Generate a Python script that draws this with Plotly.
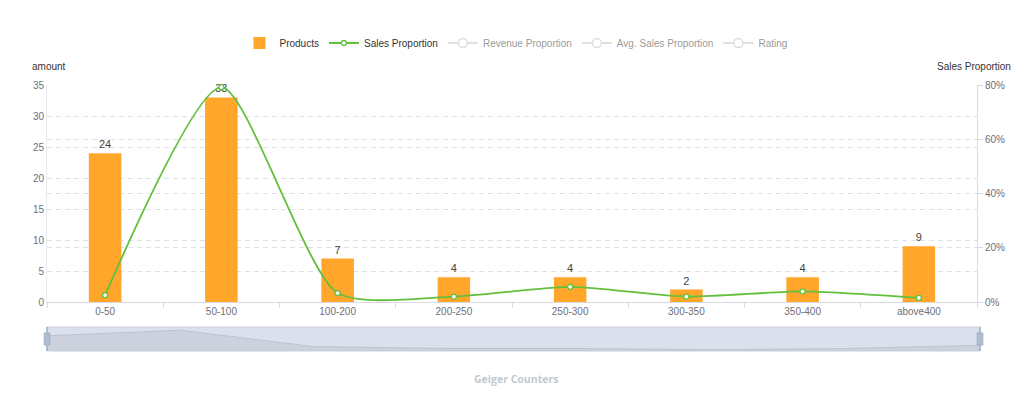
import plotly.graph_objects as go

categories = ["0-50", "50-100", "100-200", "200-250", "250-300", "300-350", "350-400", "above400"]
products = [24, 33, 7, 4, 4, 2, 4, 9]
sales_proportion = [0.025, 0.792, 0.033, 0.020, 0.056, 0.020, 0.039, 0.015]
left_ticks = [0, 5, 10, 15, 20, 25, 30, 35]
right_ticks = [0, 0.2, 0.4, 0.6, 0.8]

FONT = "Liberation Sans, Arial, sans-serif"
FS = 10
ORANGE = "#ffa62b"
GREEN = "#62c03c"
GRID = "#dde2ea"
AXIS = "#d7dbe3"
TICKC = "#6e7079"

# page body has an 8px margin; figure is sized/offset to compensate
W, H = 1016, 388
OFF = 8

fig = go.Figure()

fig.add_trace(go.Bar(
    x=categories, y=products, name="Products",
    marker=dict(color=ORANGE, line=dict(width=0)),
    width=0.28, text=[str(v) for v in products], textposition="outside",
    textfont=dict(color="#444", size=FS + 1, family=FONT), cliponaxis=False,
    xaxis="x", yaxis="y",
))
fig.add_trace(go.Scatter(
    x=categories, y=sales_proportion, name="Sales Proportion",
    mode="lines+markers", line=dict(color=GREEN, width=1.8, shape="spline", smoothing=0.65),
    marker=dict(symbol="circle", size=5, color="white", line=dict(color=GREEN, width=1.3)),
    xaxis="x", yaxis="y2", cliponaxis=False,
))
for nm in ["Revenue Proportion", "Avg. Sales Proportion", "Rating"]:
    fig.add_trace(go.Scatter(
        x=categories, y=sales_proportion, name=nm, visible="legendonly",
        mode="lines+markers", line=dict(color="#bbbbbb", width=1.8),
        marker=dict(symbol="circle", size=9, color="white", line=dict(color="#bbbbbb", width=1.3)),
        xaxis="x", yaxis="y2",
    ))

# data-zoom slider preview
slider_x = list(range(len(categories)))
fig.add_trace(go.Scatter(
    x=slider_x, y=products, mode="lines", fill="tozeroy",
    line=dict(color="#bcc4d2", width=1), fillcolor="rgba(190,198,212,0.55)",
    xaxis="x3", yaxis="y3", showlegend=False, hoverinfo="skip",
))

T, B, L, R = 85 - OFF, 351 - OFF, 47 - OFF, 980 - OFF
H_PLOT = B - T
main_lo = (351 - 302) / H_PLOT
sl_hi = (351 - 327) / H_PLOT
main_xw = 930 / 933

fig.update_layout(
    width=W, height=H,
    margin=dict(l=L, r=W - R, t=T, b=H - B, autoexpand=False),
    paper_bgcolor="white", plot_bgcolor="white",
    font=dict(family=FONT, size=FS, color="#333"),
    showlegend=True,
    legend=dict(orientation="h", x=(516 - OFF) / W, xanchor="center",
                y=1 - (43 - OFF) / H, yanchor="middle",
                xref="container", yref="container",
                font=dict(size=FS, color="#333", family=FONT),
                itemwidth=30, itemclick=False, itemdoubleclick=False,
                bgcolor="rgba(0,0,0,0)"),
    xaxis=dict(domain=[0, main_xw], type="category", categoryorder="array", categoryarray=categories,
               showline=True, linecolor=AXIS, linewidth=1, ticks="outside", tickson="boundaries",
               ticklen=5, tickcolor=AXIS, showgrid=False, anchor="y",
               tickfont=dict(color=TICKC, size=FS, family=FONT)),
    yaxis=dict(domain=[main_lo, 1], range=[0, 35], tickvals=left_ticks,
               showgrid=True, gridcolor=GRID, griddash="5px,4px", gridwidth=1,
               showline=True, linecolor="#e8ebf1", zeroline=False, anchor="x",
               ticks="", tickfont=dict(color=TICKC, size=FS, family=FONT)),
    yaxis2=dict(overlaying="y", side="right", range=[0, 0.8], tickvals=right_ticks,
                tickformat=".0%", showgrid=True, gridcolor=GRID, griddash="5px,4px",
                showline=True, linecolor=AXIS, ticks="outside", ticklen=5, tickcolor=AXIS,
                zeroline=False, anchor="x",
                tickfont=dict(color=TICKC, size=FS, family=FONT)),
    xaxis3=dict(domain=[0, 1], range=[0, 7], visible=False, anchor="y3", fixedrange=True),
    yaxis3=dict(domain=[0, sl_hi], range=[0, 38], visible=False, anchor="x3", fixedrange=True),
    shapes=[
        dict(type="rect", xref="x3 domain", yref="y3 domain", x0=0, x1=1, y0=0, y1=1,
             fillcolor="rgba(210,218,231,0.8)", line=dict(color="#c9d1dd", width=1), layer="below"),
        dict(type="line", xref="x3 domain", yref="y3 domain", x0=0, x1=0, y0=0, y1=1,
             line=dict(color="#9fb0c8", width=1.5)),
        dict(type="line", xref="x3 domain", yref="y3 domain", x0=1, x1=1, y0=0, y1=1,
             line=dict(color="#9fb0c8", width=1.5)),
        dict(type="rect", xref="paper", yref="paper", x0=-0.003, x1=0.003,
             y0=(351 - 345) / H_PLOT, y1=(351 - 333) / H_PLOT,
             fillcolor="#aebdd2", line=dict(color="#9fb0c8", width=1)),
        dict(type="rect", xref="paper", yref="paper", x0=0.997, x1=1.003,
             y0=(351 - 345) / H_PLOT, y1=(351 - 333) / H_PLOT,
             fillcolor="#aebdd2", line=dict(color="#9fb0c8", width=1)),
    ],
    annotations=[
        dict(text="amount", xref="paper", yref="paper", x=-17 / 933, xanchor="left",
             y=1 + 18 / H_PLOT, yanchor="middle", showarrow=False,
             font=dict(color="#333", size=FS, family=FONT)),
        dict(text="Sales Proportion", xref="paper", yref="paper", x=1 + 33 / 933, xanchor="right",
             y=1 + 18 / H_PLOT, yanchor="middle", showarrow=False,
             font=dict(color="#333", size=FS, family=FONT)),
        dict(text="<b>Geiger Counters</b>", xref="paper", yref="paper", x=(516 - 47) / 933, xanchor="center",
             y=-(379 - 351) / H_PLOT, yanchor="middle", showarrow=False,
             font=dict(color="#c4c8d0", size=10.5, family="Open Sans, sans-serif")),
    ],
)

fig.write_html("out.html")
